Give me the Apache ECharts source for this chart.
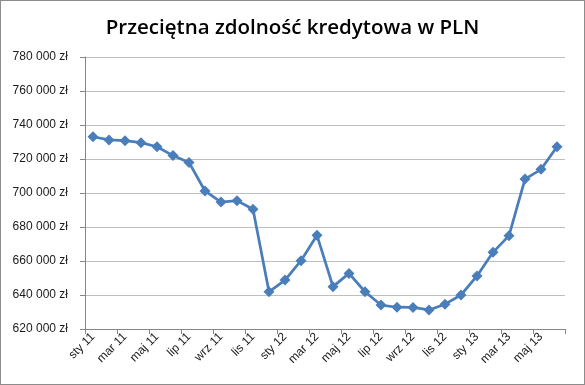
<!DOCTYPE html>
<html><head><meta charset="utf-8">
<script src="https://cdn.jsdelivr.net/npm/echarts@6/dist/echarts.min.js"></script>
<style>html,body{margin:0;padding:0;background:#fff}#c{width:585px;height:385px;box-sizing:border-box;border:1px solid #8c8c8c}</style>
</head><body><div id="c"></div>
<script>
const months = ['sty','lut','mar','kwi','maj','cze','lip','sie','wrz','paź','lis','gru'];
const categories = [];
for (let y = 11; y <= 13; y++) for (let m = 0; m < 12; m++) { if (y === 13 && m > 5) break; categories.push(months[m] + ' ' + y); }
const values = [733100, 731200, 730800, 729600, 727200, 722000, 718000, 701200, 694700, 695500, 690400, 641900,
  648800, 660200, 675100, 644900, 652700, 641900, 634100, 632800, 632700, 631200, 634600, 640000,
  651200, 665100, 674900, 708200, 713900, 727200];
const yMin = 620000, yMax = 780000, yStep = 20000;
const title = 'Przeciętna zdolność kredytowa w PLN';

const chart = echarts.init(document.getElementById('c'));
chart.setOption({
  animation: false,
  title: { text: title, left: 'center', top: 12, textStyle: { fontFamily: 'Open Sans', fontWeight: 600, fontSize: 20.5, color: '#000' } },
  grid: { left: 84, right: 19, top: 56, bottom: 55, containLabel: false },
  xAxis: {
    type: 'category', data: categories, boundaryGap: true,
    axisLine: { lineStyle: { color: '#868686', width: 1 } },
    axisTick: { show: true, interval: 1, length: 5, lineStyle: { color: '#868686' } },
    axisLabel: { interval: 1, rotate: 45, fontFamily: 'Liberation Sans', fontSize: 12, color: '#1a1a1a', margin: 6 },
    splitLine: { show: false }
  },
  yAxis: {
    type: 'value', min: yMin, max: yMax, interval: yStep,
    axisLine: { show: true, lineStyle: { color: '#868686' } },
    axisTick: { show: true, length: 5, lineStyle: { color: '#868686' } },
    axisLabel: { fontFamily: 'Liberation Sans', fontSize: 12, color: '#1a1a1a', margin: 17,
      formatter: v => String(v).replace(/\B(?=(\d{3})+(?!\d))/g, ' ') + ' zł' },
    splitLine: { lineStyle: { color: '#bfbfbf', width: 1 } }
  },
  series: [{
    type: 'line', data: values, symbol: 'diamond', symbolSize: 11, showAllSymbol: true,
    lineStyle: { color: '#4a7ebb', width: 2.75 },
    itemStyle: { color: '#4a7ebb' }
  }]
});
</script></body></html>
